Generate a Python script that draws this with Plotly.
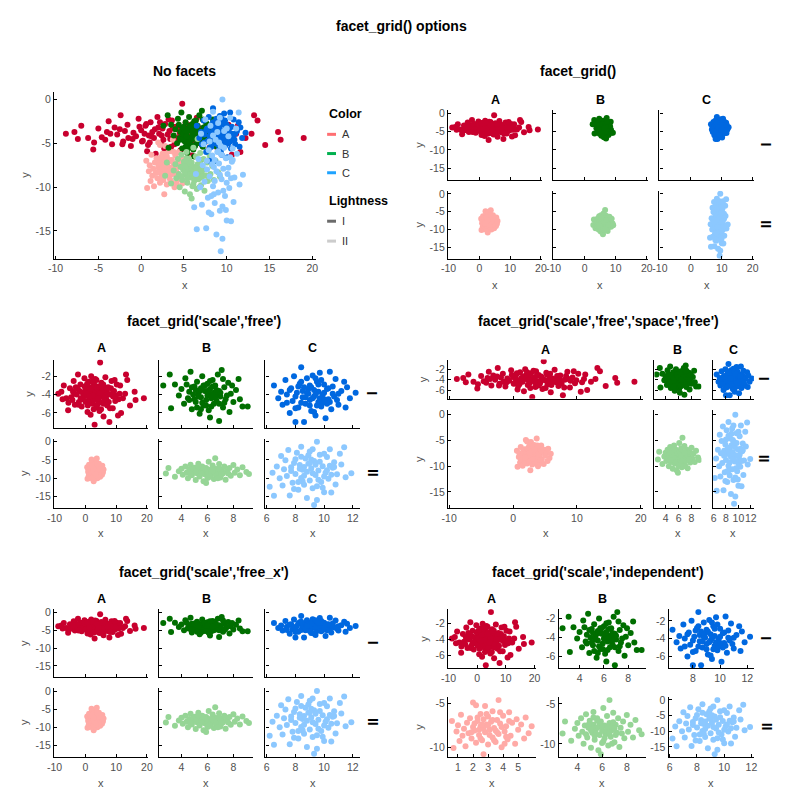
import plotly.graph_objects as go

# ---------------- data ----------------
A_I_x = [-8.8,-7.8,-7.4,-7.0,-6.2,-5.6,-5.5,-5.0,-4.6,-4.2,-3.8,-3.4,-3.1,-2.8,-2.4,-2.1,-1.9,-1.6,-1.2,-0.9,
         -0.6,-0.3,0.0,0.2,0.5,0.7,0.9,1.1,1.3,1.5,1.7,1.9,2.1,2.3,2.5,2.6,2.8,3.0,3.1,3.3,
         3.5,3.6,3.8,4.0,4.2,4.4,4.6,4.8,5.0,5.2,5.4,5.7,5.9,6.2,6.5,6.8,7.1,7.4,7.8,8.1,
         8.5,8.9,9.3,9.7,10.2,10.6,11.1,11.6,12.2,12.9,13.2,13.6,14.5,16.0,16.3,19.0,
         1.0,2.0,3.4,4.5,5.5,6.0,7.0,2.7,-1.0,0.4,6.6,8.3,9.0,-2.5,
         -1.5,-0.2,0.8,1.6,2.4,3.2,3.9,4.7,5.3,6.1,6.9,7.6,8.7,9.5,10.8,-3.6,-2.2,0.1,1.2,2.2,
         3.7,4.3,5.1,5.8,7.3,8.0,9.9,11.3,-4.0,0.6]
A_I_y = [-3.9,-3.7,-4.5,-3.0,-4.4,-5.7,-4.9,-3.3,-4.3,-4.6,-2.5,-5.1,-3.2,-4.0,-1.8,-4.8,-3.6,-2.9,-5.3,-3.8,
         -4.2,-2.2,-3.5,-4.7,-3.0,-5.9,-4.1,-2.6,-3.7,-4.4,-6.2,-2.0,-3.9,-5.0,-3.3,-4.6,-2.8,-7.3,-4.0,-3.6,
         -5.4,-2.4,-4.3,-3.1,-4.8,-3.4,-5.8,-0.5,-4.1,-2.7,-4.9,-3.5,-6.4,-3.8,-2.1,-4.5,-5.2,-3.2,-7.0,-4.0,
         -2.5,-5.5,-3.6,-4.7,-2.9,-6.3,-3.9,-6.0,-4.4,-3.9,-1.8,-2.4,-5.2,-3.7,-4.6,-4.4,
         -4.9,-3.2,-4.5,-3.8,-4.2,-5.0,-3.7,-5.6,-4.5,-3.9,-4.1,-3.3,-4.2,-3.4,
         -4.4,-3.1,-5.2,-3.4,-4.1,-2.3,-5.1,-3.9,-3.0,-4.6,-3.3,-4.8,-3.9,-2.4,-4.5,-3.9,-5.1,-4.8,-4.2,-2.6,
         -3.3,-4.4,-5.6,-2.9,-4.0,-5.5,-4.1,-3.0,-3.7,-2.8]

A_II_x = [0.6,0.7,0.9,1.0,1.1,1.2,1.3,1.4,1.5,1.6,1.7,1.8,1.9,2.0,2.0,2.1,2.2,2.2,2.3,2.4,
          2.5,2.5,2.6,2.7,2.7,2.8,2.8,2.9,3.0,3.0,3.1,3.2,3.3,3.3,3.4,3.5,3.6,3.7,3.7,3.8,
          3.9,4.0,4.1,4.2,4.3,4.4,4.5,4.6,4.8,4.9,5.0,5.2,5.4,5.5,5.7,5.9,2.4,3.5,3.0,4.1,
          2.1,2.9,3.6,4.2,2.5,3.3,3.9,1.9,2.7,3.4,4.4,2.3,3.1,3.8,2.6]
A_II_y = [-7.0,-10.1,-8.2,-7.5,-9.3,-6.3,-8.7,-7.9,-9.9,-7.2,-8.4,-6.7,-9.0,-4.9,-7.7,-8.1,-5.2,-9.5,-7.0,-8.6,
          -6.2,-7.6,-9.2,-10.8,-6.8,-5.3,-8.3,-7.4,-9.7,-6.5,-8.0,-7.1,-8.9,-5.9,-7.8,-9.4,-6.9,-4.6,-8.5,-7.3,
          -10.0,-6.4,-8.2,-7.6,-9.1,-6.0,-8.7,-7.2,-9.6,-6.8,-8.0,-7.4,-9.0,-6.6,-8.4,-7.6,-8.0,-8.1,-7.5,-9.6,
          -7.3,-6.2,-8.3,-8.8,-9.0,-6.9,-7.7,-8.3,-7.9,-9.2,-7.0,-6.6,-8.6,-6.0,-7.4]

B_I_x = [2.6,3.1,3.2,3.5,3.8,4.0,4.2,4.3,4.5,4.6,4.7,4.8,4.9,5.0,5.1,5.2,5.3,5.4,5.5,5.5,
         5.6,5.7,5.8,5.9,6.0,6.0,6.1,6.2,6.2,6.3,6.4,6.5,6.5,6.6,6.7,6.8,6.9,6.9,7.0,7.1,
         7.2,7.3,7.4,7.6,7.7,7.8,8.0,8.2,8.4,8.5,8.7,9.1,5.0,5.7,6.3,5.4,6.8,4.4,7.5,6.1,
         5.1,5.6,6.4,7.0,5.9,6.6,4.8,7.3,5.3,6.2,5.8,6.9,4.6,7.9,5.5,6.0,6.7,5.2,6.4,7.2]
B_I_y = [-3.0,-1.8,-5.5,-2.9,-4.1,-3.4,-5.0,-2.2,-4.4,-3.7,-1.5,-5.6,-4.0,-3.1,-4.8,-2.6,-3.9,-6.1,-4.3,-3.3,
         -2.0,-5.2,-3.6,-4.6,-2.8,-4.1,-5.7,-3.4,-6.5,-4.4,-2.4,-3.8,-5.0,-3.0,-4.7,-1.8,-6.9,-3.6,-4.2,-1.3,
         -5.4,-3.2,-4.5,-2.7,-5.9,-3.9,-4.8,-3.5,-2.3,-4.5,-5.3,-5.3,-4.5,-3.0,-5.3,-3.6,-4.0,-2.9,-4.1,-3.7,
         -3.5,-4.9,-3.1,-3.8,-5.2,-4.3,-3.2,-4.9,-4.2,-2.5,-3.0,-5.0,-4.6,-3.0,-5.6,-3.6,-3.5,-5.4,-4.0,-2.3]

B_II_x = [2.8,3.0,3.5,3.8,4.0,4.1,4.3,4.4,4.5,4.6,4.7,4.8,4.9,5.0,5.1,5.2,5.3,5.3,5.4,5.5,
          5.6,5.7,5.7,5.8,5.9,5.9,6.0,6.1,6.1,6.2,6.3,6.4,6.5,6.5,6.6,6.6,6.7,6.8,6.9,7.0,
          7.1,7.2,7.3,7.4,7.5,7.7,7.8,8.0,8.1,8.3,8.5,8.7,9.0,9.2,6.0,5.5,6.7,6.3,5.2,7.0,
          4.9,5.4,5.8,6.2,6.6,7.1,5.1,5.6,6.4,6.9,7.6,4.7,6.0,5.3,6.8]
B_II_y = [-8.7,-7.2,-9.6,-8.1,-7.4,-9.0,-6.8,-8.5,-10.0,-7.7,-6.3,-9.2,-8.0,-7.1,-10.5,-8.6,-6.0,-7.6,-9.5,-8.2,
          -6.8,-10.8,-7.9,-8.9,-11.3,-7.2,-8.4,-5.5,-9.7,-7.7,-8.8,-6.5,-10.2,-8.0,-4.5,-7.4,-9.1,-8.3,-6.1,-9.8,
          -7.6,-8.6,-6.8,-10.4,-8.0,-7.2,-9.3,-6.4,-8.5,-7.6,-9.2,-7.0,-8.3,-8.8,-7.9,-8.7,-7.8,-8.4,-8.0,-8.1,
          -7.6,-9.0,-7.4,-9.3,-8.6,-8.9,-8.3,-7.1,-7.9,-7.3,-8.7,-8.8,-9.9,-6.7,-10.0]

C_I_x = [6.5,6.8,7.0,7.1,7.3,7.4,7.6,7.7,7.8,7.9,8.0,8.1,8.2,8.3,8.4,8.5,8.6,8.6,8.7,8.8,
         8.9,9.0,9.0,9.1,9.2,9.3,9.3,9.4,9.5,9.6,9.6,9.7,9.8,9.9,10.0,10.1,10.2,10.3,10.4,10.5,
         10.6,10.7,10.8,11.0,11.2,11.4,11.5,11.8,12.2,9.2,8.4,10.0,9.5,8.9,10.4,9.8,8.0,11.0,9.4,7.6,
         8.5,9.0,9.7,10.2,8.2,9.4,10.6,8.7,9.9,9.1,8.0,10.9,9.6,8.4,10.3,9.3,8.8,10.0,7.4,11.6]
C_I_y = [-3.0,-4.4,-3.7,-5.1,-2.4,-4.0,-6.0,-3.3,-4.7,-2.0,-7.0,-3.8,-5.4,-2.8,-1.0,-4.3,-3.2,-7.0,-5.0,-2.2,
         -3.9,-4.6,-3.0,-5.8,-1.9,-4.2,-3.5,-6.3,-2.6,-4.8,-3.7,-1.6,-5.3,-4.0,-2.9,-6.6,-3.4,-4.5,-1.5,-5.6,
         -3.1,-4.2,-2.3,-5.1,-3.6,-2.6,-5.4,-4.4,-3.8,-4.4,-4.9,-3.8,-5.2,-3.4,-4.8,-2.4,-4.2,-3.9,-4.0,-3.5,
         -3.6,-5.2,-4.4,-5.0,-3.1,-2.2,-3.9,-4.3,-4.9,-3.2,-5.5,-4.6,-2.9,-2.6,-3.3,-5.9,-3.8,-4.5,-4.9,-3.2]

C_II_x = [6.2,6.4,6.5,6.7,6.9,7.0,7.1,7.2,7.3,7.4,7.5,7.6,7.7,7.8,7.9,8.0,8.1,8.2,8.3,8.4,
          8.4,8.5,8.6,8.7,8.8,8.8,8.9,9.0,9.0,9.1,9.2,9.3,9.3,9.4,9.5,9.5,9.6,9.7,9.8,9.9,
          10.0,10.1,10.2,10.3,10.4,10.5,10.6,10.7,10.8,10.9,11.1,11.2,11.4,11.5,11.9,9.2,8.6,10.0,9.6,8.3,
          10.4,9.1,
          8.0,8.5,9.0,9.5,10.0,10.5,7.7,8.2,8.9,9.4,9.9,10.7,8.6,9.7,7.9,10.2,9.2,8.4]
C_II_y = [-12.3,-8.5,-14.8,-6.8,-10.0,-3.9,-12.0,-7.5,-5.1,-9.4,-2.3,-14.7,-7.0,-11.2,-5.8,-8.8,-3.0,-13.1,-6.4,-9.9,
          -1.4,-7.7,-11.8,-4.6,-15.4,-8.2,-6.0,-10.6,-2.7,-7.3,-12.7,-17.3,-5.3,-9.1,0.0,-15.9,-7.9,-3.6,-11.0,-6.7,
          -13.8,-8.5,-4.2,-10.1,-2.1,-13.9,-7.1,-5.6,-11.7,-8.9,-3.3,-6.2,-1.5,-9.7,-8.6,-8.6,-6.9,-9.5,-10.4,-7.4,
          -6.6,-4.9,
          -4.8,-10.8,-5.9,-12.2,-3.3,-9.0,-8.0,-11.0,-3.7,-6.3,-12.6,-6.9,-9.3,-5.5,-12.9,-7.8,-2.1,-4.1]

colors_cat = ["A", "B", "C"]
lightness_cat = ["I", "II"]
main_title = "facet_grid() options"
panel_titles = ["No facets", "facet_grid()", "facet_grid('scale','free')",
                "facet_grid('scale','free','space','free')", "facet_grid('scale','free_x')",
                "facet_grid('scale','independent')"]

X = {"AI": A_I_x, "AII": A_II_x, "BI": B_I_x, "BII": B_II_x, "CI": C_I_x, "CII": C_II_x}
Y = {"AI": A_I_y, "AII": A_II_y, "BI": B_I_y, "BII": B_II_y, "CI": C_I_y, "CII": C_II_y}
for k in X:
    assert len(X[k]) == len(Y[k]), (k, len(X[k]), len(Y[k]))

COL = {"AI": "#c8002e", "AII": "#ffaaa6", "BI": "#006e00", "BII": "#96d596",
       "CI": "#0068e0", "CII": "#8cc8ff"}
LEG_COL = {"A": "#ff6f72", "B": "#00b04f", "C": "#1ea3ff", "I": "#6b6b6b", "II": "#cccccc"}
ORDER = ["AI", "AII", "BI", "BII", "CI", "CII"]

W = H = 800
FONT = "Liberation Sans, Arial, Helvetica, sans-serif"
def fx(px): return px / W
def fy(py): return 1 - py / H

def pad(keys, axis, f=0.05):
    vals = []
    for k in keys:
        vals += (X[k] if axis == "x" else Y[k])
    lo, hi = min(vals), max(vals)
    d = (hi - lo) * f
    return [lo - d, hi + d]

fig = go.Figure()
axes = {}
ann = []
shapes = []
n = [0]
common = dict(showline=True, linecolor="black", linewidth=1.3, ticks="inside", ticklen=3,
              tickwidth=1, tickcolor="black", showgrid=False, zeroline=False, tickangle=0,
              tickfont=dict(size=10.5, color="#505050", family=FONT), fixedrange=True)

def add_axes(xpx, ypx, keys, xr, yr, xt, yt, showx=True, showy=True):
    n[0] += 1
    s = "" if n[0] == 1 else str(n[0])
    axes["xaxis" + s] = dict(domain=[fx(xpx[0]), fx(xpx[1])], anchor="y" + s, range=xr,
                             tickmode="array", tickvals=xt, ticktext=[str(v) for v in xt],
                             showticklabels=showx, **common)
    axes["yaxis" + s] = dict(domain=[fy(ypx[1]), fy(ypx[0])], anchor="x" + s, range=yr,
                             tickmode="array", tickvals=yt, ticktext=[str(v) for v in yt],
                             showticklabels=showy, **common)
    for k in keys:
        fig.add_trace(go.Scatter(x=X[k], y=Y[k], mode="markers",
                                 marker=dict(color=COL[k], size=6, line=dict(width=0)),
                                 xaxis="x" + s, yaxis="y" + s, showlegend=False, hoverinfo="skip"))

def text(x, y, t, size=11, bold=False, color="#505050", angle=0, xanchor="center"):
    ann.append(dict(x=fx(x), y=fy(y), xref="paper", yref="paper", text=("<b>%s</b>" % t) if bold else t,
                    showarrow=False, xanchor=xanchor, yanchor="middle", textangle=angle,
                    font=dict(size=size, color=color, family=FONT)))

YT_ALL = [0, -5, -10, -15]
YT_I = [-2, -4, -6]
XT = {"A": [-10, 0, 10, 20], "B": [4, 6, 8], "C": [6, 8, 10, 12]}

# ---- Panel 1: no facets
add_axes((47.7, 313.3), (88.3, 256), ORDER, pad(ORDER, "x"), pad(ORDER, "y"),
         [-10, -5, 0, 5, 10, 15, 20], YT_ALL)
text(180, 67, panel_titles[0], 14, True, "black")
text(180.5, 282, "x")
text(18, 172, "y", angle=-90)
# legend
text(325, 111, "Color", 12.5, True, "black", xanchor="left")
for i, c in enumerate(colors_cat):
    yy = 131 + i * 19.3
    shapes.append(dict(type="line", xref="paper", yref="paper", x0=fx(325), x1=fx(334), y0=fy(yy), y1=fy(yy),
                       line=dict(color=LEG_COL[c], width=3)))
    text(338.5, yy, c, 11, False, "#333333", xanchor="left")
text(325, 198.3, "Lightness", 12.5, True, "black", xanchor="left")
for i, c in enumerate(lightness_cat):
    yy = 218.3 + i * 20
    shapes.append(dict(type="line", xref="paper", yref="paper", x0=fx(325), x1=fx(334), y0=fy(yy), y1=fy(yy),
                       line=dict(color=LEG_COL[c], width=3)))
    text(338.5, yy, c, 11, False, "#333333", xanchor="left")

def facet_panel(cols_px, rows_px, title, title_xy, col_lab_y, row_lab_x, xlab_y, ylab_x, mode, yt_rows):
    text(title_xy[0], title_xy[1], title, 14, True, "black")
    for ci, c in enumerate(colors_cat):
        text((cols_px[ci][0] + cols_px[ci][1]) / 2, col_lab_y, c, 12.5, True, "black")
    for ri, l in enumerate(lightness_cat):
        text(row_lab_x, (rows_px[ri][0] + rows_px[ri][1]) / 2, l, 14, True, "black", angle=90)
    for ri, l in enumerate(lightness_cat):
        for ci, c in enumerate(colors_cat):
            k = c + l
            colkeys = [c + "I", c + "II"]
            rowkeys = ["A" + l, "B" + l, "C" + l]
            if mode == "fixed":
                xr, yr = pad(ORDER, "x"), pad(ORDER, "y")
            elif mode == "free":
                xr, yr = pad(colkeys, "x"), pad(rowkeys, "y")
            elif mode == "free_x":
                xr, yr = pad(colkeys, "x"), pad(ORDER, "y")
            else:
                xr, yr = pad([k], "x"), pad([k], "y")
            xt = XT["A"] if mode == "fixed" else XT[c]
            if mode == "indep" and k == "AII":
                xt = [1, 2, 3, 4, 5]
            yt = yt_rows[ri]
            if mode == "indep" and k in ("AII", "BII"):
                yt = [-5, -10]
            showx = (ri == 1) or mode == "indep"
            showy = (ci == 0) or mode == "indep"
            add_axes(cols_px[ci], rows_px[ri], [k], xr, yr, xt, yt, showx, showy)
    for ci in range(3):
        text((cols_px[ci][0] + cols_px[ci][1]) / 2, xlab_y, "x")
    for ri in range(2):
        text(ylab_x[ri], (rows_px[ri][0] + rows_px[ri][1]) / 2, "y", angle=-90)

LEFT_COLS = [(47.7, 143.3), (154.3, 250), (262.3, 358.3)]

facet_panel([(447.7, 543.3), (554.3, 650.7), (662.3, 758.3)], [(106.7, 176.7), (187.7, 256)],
            panel_titles[1], (580, 67), 96, 771, 282, (418, 418), "fixed", [YT_ALL, YT_ALL])
facet_panel(LEFT_COLS, [(357.3, 426), (436.7, 506.7)],
            panel_titles[2], (200, 318.5), 346, 371, 532, (22.5, 18), "free", [YT_I, YT_ALL])
facet_panel([(447.7, 646), (657.3, 705), (716.7, 758.3)], [(357.3, 396.7), (408.3, 506.7)],
            panel_titles[3], (600, 318.5), 348, 768, 532, (422.5, 418), "free", [YT_I, YT_ALL])
facet_panel(LEFT_COLS, [(608.3, 676.7), (687.3, 756.7)],
            panel_titles[4], (200, 571), 598, 371, 783, (18, 18), "free_x", [YT_ALL, YT_ALL])
facet_panel([(447.7, 536.7), (560, 648.3), (671.7, 758.3)], [(608.3, 667.3), (696.7, 756.7)],
            panel_titles[5], (600, 571), 598, 771, 783, (422.5, 418), "indep", [YT_I, YT_ALL])

text(400, 22, main_title, 14, True, "black")

fig.update_layout(width=W, height=H, margin=dict(l=0, r=0, t=0, b=0), autosize=False,
                  paper_bgcolor="white", plot_bgcolor="white", showlegend=False,
                  annotations=ann, shapes=shapes, font=dict(family=FONT), **axes)
fig.write_html("out.html")
